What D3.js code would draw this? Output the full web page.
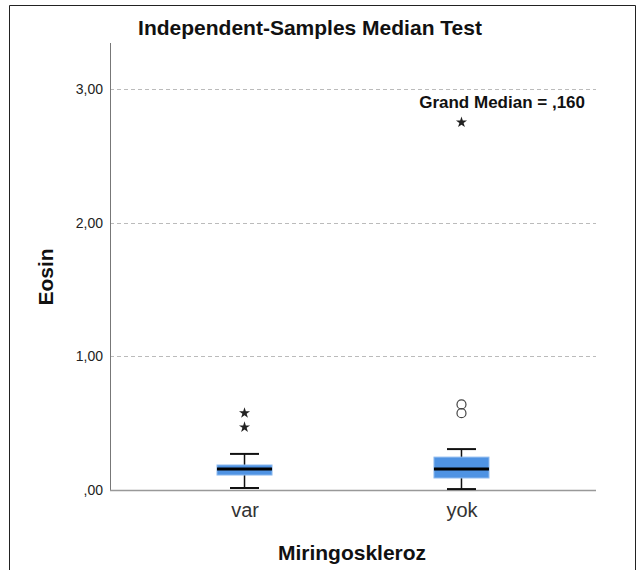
<!DOCTYPE html>
<html>
<head>
<meta charset="utf-8">
<script src="https://cdn.jsdelivr.net/npm/d3@7"></script>
<style>
body{margin:0;background:#fff;}
svg text{font-family:Arial,"Liberation Sans",sans-serif;}
</style>
</head>
<body>
<div id="chart"></div>
<script>
// data
var categories = ["var", "yok"];
var q1 = [0.112, 0.09];
var medians = [0.157, 0.157];
var q3 = [0.187, 0.246];
var whiskerLow = [0.015, 0.007];
var whiskerHigh = [0.27, 0.306];
var outlierCircles = [[], [0.575, 0.64]];
var outlierStars = [[0.47, 0.575], [2.75]];
var yTicks = [0, 1, 2, 3];
var grandMedian = ",160";

var width = 640, height = 570;
var svg = d3.select("#chart").append("svg")
    .attr("width", width).attr("height", height);

// frame
svg.append("path")
    .attr("d", "M9.5,570 L9.5,5.5 L635.5,5.5 L635.5,570")
    .attr("fill", "none").attr("stroke", "#222").attr("stroke-width", 1);

var plotLeft = 110, plotRight = 596, plotTop = 43, plotBottom = 490;

var y = d3.scaleLinear().domain([0, 3]).range([plotBottom, 89]);
var x = d3.scalePoint().domain(categories).range([plotLeft, plotRight]).padding(0.62);

// gridlines
svg.append("g").selectAll("line").data(yTicks.filter(function(d){return d>0;})).enter()
    .append("line")
    .attr("x1", plotLeft).attr("x2", plotRight)
    .attr("y1", function(d){return Math.round(y(d))+0.5;})
    .attr("y2", function(d){return Math.round(y(d))+0.5;})
    .attr("stroke", "#bbb").attr("stroke-dasharray", "4,3");

// y axis
var yAxis = d3.axisLeft(y).tickValues(yTicks).tickSize(0).tickPadding(7)
    .tickFormat(function(d){return d===0 ? ",00" : d3.format(".2f")(d).replace(".", ",");});
var gy = svg.append("g").attr("transform", "translate(" + plotLeft + ",0)").call(yAxis);
gy.select(".domain").remove();
gy.selectAll("text").attr("font-size", 14).attr("fill", "#222").attr("font-family", "Arial,'Liberation Sans',sans-serif");
svg.append("line").attr("x1", plotLeft+0.5).attr("x2", plotLeft+0.5).attr("y1", plotTop).attr("y2", plotBottom)
    .attr("stroke", "#777");

// x axis
var xAxis = d3.axisBottom(x).tickSize(0).tickPadding(13);
var gx = svg.append("g").attr("transform", "translate(0," + plotBottom + ")").call(xAxis);
gx.select(".domain").remove();
gx.selectAll("text").attr("font-size", 20).attr("fill", "#333").attr("font-family", "Arial,'Liberation Sans',sans-serif");
svg.append("line").attr("x1", plotLeft).attr("x2", plotRight).attr("y1", plotBottom+0.5).attr("y2", plotBottom+0.5)
    .attr("stroke", "#999").attr("stroke-width", 1.5);

// boxes
var boxW = 55, capW = 29;
var star = d3.symbol().type(d3.symbolStar).size(38);
categories.forEach(function(c, i){
    var cx = x(c);
    var g = svg.append("g");
    g.append("line").attr("x1", cx).attr("x2", cx).attr("y1", y(whiskerLow[i])).attr("y2", y(whiskerHigh[i]))
        .attr("stroke", "#111").attr("stroke-width", 1.5);
    [whiskerLow[i], whiskerHigh[i]].forEach(function(v){
        g.append("line").attr("x1", cx-capW/2).attr("x2", cx+capW/2).attr("y1", y(v)).attr("y2", y(v))
            .attr("stroke", "#111").attr("stroke-width", 2);
    });
    g.append("rect").attr("x", cx-boxW/2).attr("width", boxW)
        .attr("y", y(q3[i])).attr("height", y(q1[i]) - y(q3[i]))
        .attr("fill", "#4f93e3").attr("stroke", "#8bb8ee").attr("stroke-width", 1);
    g.append("line").attr("x1", cx-boxW/2).attr("x2", cx+boxW/2).attr("y1", y(medians[i])).attr("y2", y(medians[i]))
        .attr("stroke", "#000").attr("stroke-width", 3);
    outlierCircles[i].forEach(function(v){
        g.append("circle").attr("cx", cx).attr("cy", y(v)).attr("r", 4.5)
            .attr("fill", "none").attr("stroke", "#444").attr("stroke-width", 1.2);
    });
    outlierStars[i].forEach(function(v){
        g.append("path").attr("d", star)
            .attr("transform", "translate(" + cx + "," + y(v) + ")")
            .attr("fill", "#222");
    });
});

// grand median label
svg.append("text").attr("x", 585).attr("y", 108).attr("text-anchor", "end")
    .attr("font-size", 17).attr("font-weight", "bold").attr("fill", "#111")
    .text("Grand Median = " + grandMedian);

// titles
svg.append("text").attr("x", 310).attr("y", 35).attr("text-anchor", "middle")
    .attr("font-size", 21).attr("font-weight", "bold").attr("fill", "#111")
    .text("Independent-Samples Median Test");
svg.append("text").attr("x", 352).attr("y", 560).attr("text-anchor", "middle")
    .attr("font-size", 21).attr("font-weight", "bold").attr("fill", "#111")
    .text("Miringoskleroz");
svg.append("text").attr("transform", "translate(53,277) rotate(-90)").attr("text-anchor", "middle")
    .attr("font-size", 21).attr("font-weight", "bold").attr("fill", "#111")
    .text("Eosin");
</script>
</body>
</html>
